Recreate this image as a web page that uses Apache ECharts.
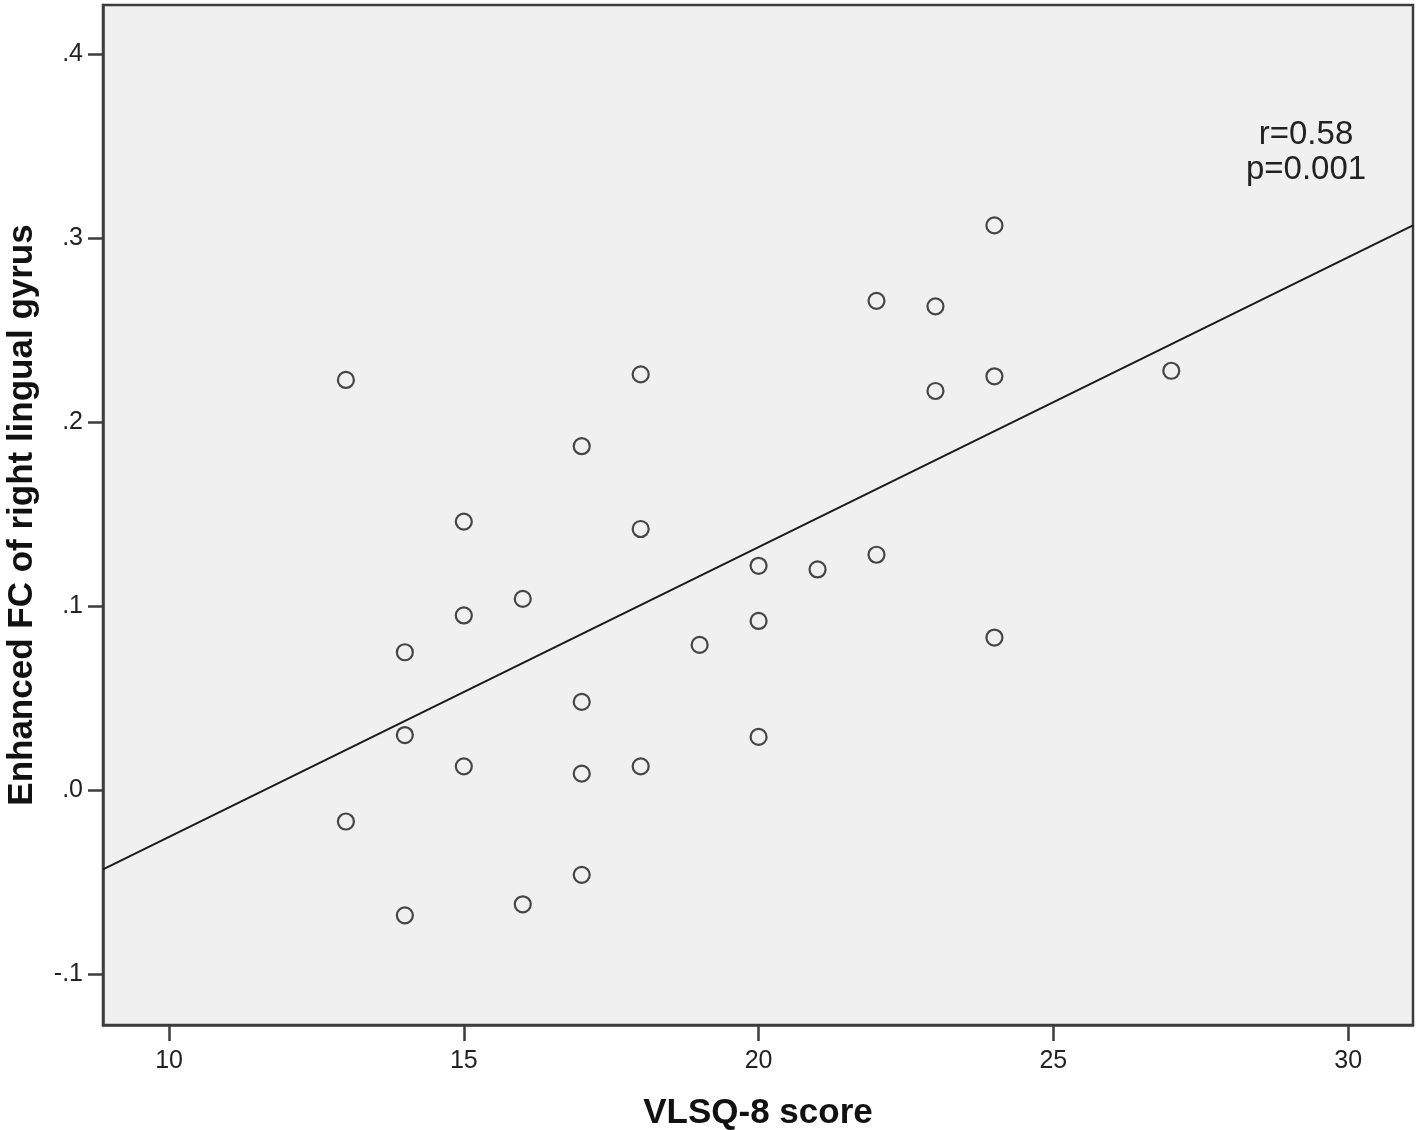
<!DOCTYPE html>
<html>
<head>
<meta charset="utf-8">
<script src="https://cdn.jsdelivr.net/npm/echarts@6/dist/echarts.min.js"></script>
<style>
  html, body { margin: 0; padding: 0; background: #fff; }
  #chart { width: 1418px; height: 1130px; }
</style>
</head>
<body>
<div id="chart"></div>
<script>
// VLSQ-8 score vs enhanced FC
const vlsqScore = [13, 13, 14, 14, 14, 15, 15, 15, 16, 16, 17, 17, 17, 17, 18, 18, 18, 19, 20, 20, 20, 21, 22, 22, 23, 23, 24, 24, 24, 27]
const fcValue = [0.223, -0.017, 0.075, 0.030, -0.068, 0.146, 0.095, 0.013, 0.104, -0.062, 0.187, 0.048, 0.009, -0.046, 0.226, 0.142, 0.013, 0.079, 0.122, 0.092, 0.029, 0.120, 0.266, 0.128, 0.263, 0.217, 0.307, 0.225, 0.083, 0.228]
// fit line end points, as drawn across the plot
const fitX = [8.88, 31.1]
const fitY = [-0.043, 0.307]
const xTicks = [10, 15, 20, 25, 30]
const yTicks = [-0.1, 0, 0.1, 0.2, 0.3, 0.4]
const statLines = ['r=0.58', 'p=0.001']

const font = 'Liberation Sans, Arial, sans-serif'
const axisColor = '#3c3c3c'

const points = vlsqScore.map((x, i) => [x, fcValue[i]])
const fitLine = fitX.map((x, i) => [x, fitY[i]])

function yLabel(v) {
  // SPSS style: drop leading zero
  const s = v.toFixed(1)
  return s.replace(/^(-?)0\./, '$1.')
}

const chart = echarts.init(document.getElementById('chart'))
chart.setOption({
  animation: false,
  backgroundColor: '#ffffff',
  grid: {
    left: 103,
    right: 5,
    top: 5,
    bottom: 105,
    containLabel: false,
    outerBoundsMode: 'none',
    show: true,
    backgroundColor: '#f0f0f0',
    borderColor: axisColor,
    borderWidth: 2.5,
  },
  xAxis: {
    type: 'value',
    min: 8.88,
    max: 31.1,
    name: 'VLSQ-8 score',
    nameLocation: 'middle',
    nameGap: 71,
    nameTextStyle: { fontFamily: font, fontSize: 35, fontWeight: 'bold', color: '#111' },
    splitLine: { show: false },
    axisLine: { show: true, onZero: false, lineStyle: { color: axisColor, width: 2.5 } },
    axisTick: { show: true, length: 16, customValues: xTicks, lineStyle: { color: axisColor, width: 2.5 } },
    axisLabel: { customValues: xTicks, margin: 24, fontFamily: font, fontSize: 25, color: '#222' },
  },
  yAxis: {
    type: 'value',
    min: -0.1276,
    max: 0.4268,
    name: 'Enhanced FC of right lingual gyrus',
    nameLocation: 'middle',
    nameGap: 63,
    nameRotate: 90,
    nameTextStyle: { fontFamily: font, fontSize: 35, fontWeight: 'bold', color: '#111' },
    splitLine: { show: false },
    axisLine: { show: true, onZero: false, lineStyle: { color: axisColor, width: 2.5 } },
    axisTick: { show: true, length: 15, customValues: yTicks, lineStyle: { color: axisColor, width: 2.5 } },
    axisLabel: { customValues: yTicks, margin: 20, fontFamily: font, fontSize: 25, color: '#222', formatter: yLabel },
  },
  graphic: statLines.map((t, i) => ({
    type: 'text',
    x: 1306,
    y: 135 + i * 35,
    style: {
      text: t,
      font: '33px ' + font,
      fill: '#222',
      align: 'center',
      verticalAlign: 'middle',
    },
  })),
  series: [
    {
      type: 'line',
      data: fitLine,
      symbol: 'none',
      lineStyle: { color: '#1a1a1a', width: 2 },
      silent: true,
      z: 2,
    },
    {
      type: 'scatter',
      data: points,
      symbol: 'circle',
      symbolSize: 16,
      itemStyle: { color: 'rgba(0,0,0,0)', borderColor: '#1a1a1a', borderWidth: 2.2 },
      z: 3,
    },
  ],
})
</script>
</body>
</html>
